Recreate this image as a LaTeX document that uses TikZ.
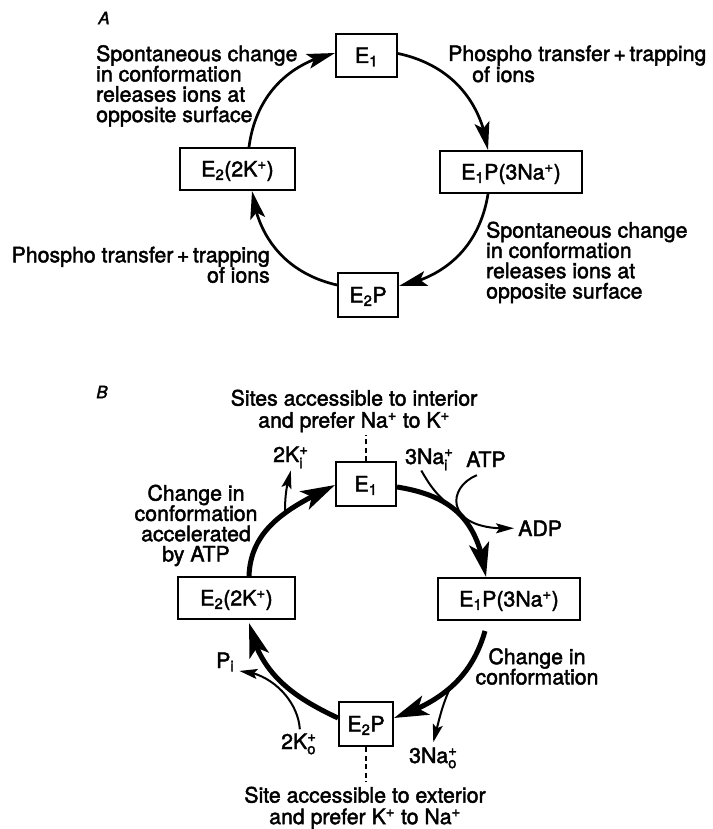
\documentclass[tikz,border=0pt]{standalone}
\usepackage{fontspec}
\setmainfont{TeX Gyre Heros}[FakeBold=2]
\usepackage{amsmath}
\usetikzlibrary{arrows.meta,bending}
\newcommand\ionmark[2]{\ensuremath{^{\text{#1}}_{\text{#2}}}}
\begin{document}
\begin{tikzpicture}[x=1pt,y=-1pt,
  font=\fontsize{21.3}{20.3}\selectfont,
  statebox/.style={draw, line width=2pt, inner sep=0pt, minimum height=42pt, text height=17pt, text depth=2pt},
  txt/.style={inner sep=0pt},
  panel/.style={inner sep=0pt, font=\fontsize{17}{17}\selectfont\itshape},
  arA/.style={line width=2.7pt, -{Stealth[length=28pt,width=15pt,inset=6pt]}},
  arB/.style={line width=5pt, -{Stealth[length=34pt,width=20pt,inset=8pt]}},
  ionarrow/.style={line width=2pt, -{Stealth[length=18pt,width=10pt,inset=3.5pt]}},
  ionline/.style={line width=2pt},
  dashline/.style={line width=1.6pt, dash pattern=on 5pt off 3.5pt}]
\useasboundingbox (0,0) rectangle (712,829);

% ---------------- Panel A ----------------
\node[panel] (labA) at (104,18) {A};
\node[statebox, minimum width=61pt, minimum height=43pt] (e1A) at (366.5,55.5) {E\textsubscript{1}};
\node[statebox, minimum width=142pt] (e1pA) at (511,172) {E\textsubscript{1}P(3Na\textsuperscript{+})};
\node[statebox, minimum width=115pt] (e2kA) at (237.5,169) {E\textsubscript{2}(2K\textsuperscript{+})};
\node[statebox, minimum width=60pt, minimum height=44pt] (e2pA) at (368,295) {E\textsubscript{2}P};

\draw[arA] ([yshift=2pt]e1A.east) to[bend left=35] ([xshift=-23pt]e1pA.north);
\draw[arA] ([xshift=-23pt]e1pA.south) to[bend left=35] ([yshift=9pt]e2pA.east);
\draw[arA] ([yshift=10pt]e2pA.west) to[bend left=35] ([xshift=14.5pt]e2kA.south);
\draw[arA] ([xshift=11.5pt]e2kA.north) to[bend left=35] ([yshift=2.5pt]e1A.west);

\node[txt, anchor=north west, align=left] (tlA) at (96,45) {Spontaneous change\\in conformation\\releases ions at\\opposite surface};
\node[txt, anchor=base west] (trA) at (448,61) {Phospho transfer\,+\,trapping};
\node[txt, anchor=base west] (trA2) at (472,82) {of ions};
\node[txt, anchor=north east, align=right] (blA) at (270,246.5) {Phospho transfer\,+\,trapping\\of ions};
\node[txt, anchor=north west, align=left] (brA) at (486,221.5) {Spontaneous change\\in conformation\\releases ions at\\opposite surface};

% ---------------- Panel B ----------------
\node[panel] (labB) at (102,392) {B};
\node[statebox, minimum width=60pt, minimum height=44pt] (e1B) at (366,484) {E\textsubscript{1}};
\node[statebox, minimum width=142pt] (e1pB) at (509,599) {E\textsubscript{1}P(3Na\textsuperscript{+})};
\node[statebox, minimum width=117pt] (e2kB) at (236.5,598) {E\textsubscript{2}(2K\textsuperscript{+})};
\node[statebox, minimum width=54pt, minimum height=44pt] (e2pB) at (366,724) {E\textsubscript{2}P};

\node[txt, anchor=north, align=center, font=\fontsize{21.3}{22}\selectfont] (sitesI) at (354,389.5) {Sites accessible to interior\\and prefer Na\textsuperscript{+} to K\textsuperscript{+}};
\node[txt, anchor=north, align=center] (chgB) at (196,484.5) {Change in\\conformation\\accelerated\\by ATP};
\node[txt, anchor=north, align=center] (chg2B) at (537,648) {Change in\\conformation};
\node[txt, anchor=north, align=center, font=\fontsize{21.3}{21.5}\selectfont] (sitesE) at (365,786.5) {Site accessible to exterior\\and prefer K\textsuperscript{+} to Na\textsuperscript{+}};

\node[txt, anchor=base west] (k2i) at (273,462) {2K\ionmark{+}{i}};
\node[txt, anchor=base west] (n3nai) at (405,464) {3Na\ionmark{+}{i}};
\node[txt, anchor=base west] (atp) at (466,467) {ATP};
\node[txt, anchor=base west] (adp) at (518,536) {ADP};
\node[txt, anchor=base west] (pi) at (216,668) {P\textsubscript{i}};
\node[txt, anchor=base west] (k2o) at (281,749) {2K\ionmark{+}{o}};
\node[txt, anchor=base west] (n3nao) at (409,763) {3Na\ionmark{+}{o}};

\draw[dashline] (e1B.north) -- ([yshift=-3pt]e1B.north |- sitesI.south);
\draw[dashline] (e2pB.south) -- ([yshift=5pt]e2pB.south |- sitesE.north);

\draw[arB] ([yshift=-3pt]e1B.east) to[out=-9,in=98,looseness=1.15] ([xshift=-23pt]e1pB.north);
\draw[arB] ([xshift=-24pt,yshift=-10pt]e1pB.south) to[out=-106,in=19] ([yshift=6pt]e2pB.east);
\draw[arB] ([yshift=6pt]e2pB.west) to[out=155,in=-78] ([xshift=12.5pt,yshift=-3pt]e2kB.south);
\draw[arB] ([xshift=12.5pt]e2kB.north) to[out=88,in=206] ([yshift=-1pt]e1B.west);

\coordinate (k2iStart) at (285,512);
\coordinate (naiJoin) at (452,507);
\coordinate (naoStart) at (451,686);

\draw[ionarrow] (k2iStart) to[bend left=8] ([yshift=-2pt]k2i.south);
\draw[ionline] ([xshift=-8pt]n3nai.south) to[out=-60,in=143] (naiJoin);
\draw[ionarrow] ([xshift=-9pt,yshift=-8pt]atp.south) .. controls (445,488) and (445,532) .. ([xshift=-4pt]adp.west);
\draw[ionarrow] ([xshift=1pt,yshift=4pt]k2o.north) .. controls (298,700) and (270,672) .. ([xshift=5pt,yshift=-9pt]pi.east);
\draw[ionarrow] (naoStart) to[out=-115,in=75] ([yshift=5pt]n3nao.north);
\end{tikzpicture}
\end{document}
